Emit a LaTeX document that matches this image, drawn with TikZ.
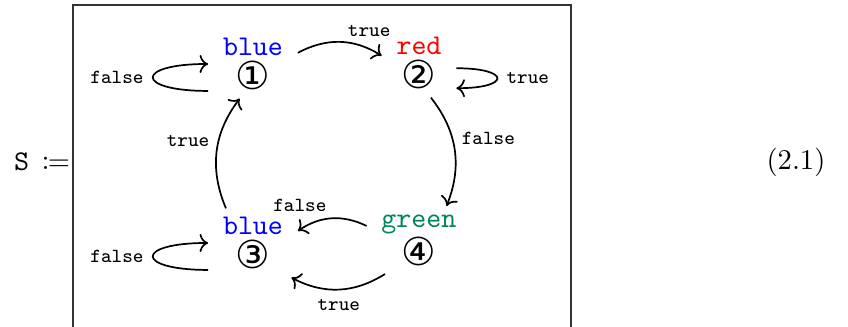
\documentclass[tikz,border=0pt]{standalone}
\usepackage{fontspec}
\usepackage{mathtools}
\newfontfamily\circfont[Scale=1.35]{DejaVu Sans}
\usetikzlibrary{positioning, arrows.meta}
\definecolor{stgreen}{RGB}{0,135,85}

\begin{document}
\begin{tikzpicture}[
    x = 0.35pt, y = -0.35pt,
    statebox/.style = {
      rectangle, align = center, font = \ttfamily,
      inner xsep = 5.2pt, inner ysep = 3pt, outer sep = 0pt
    },
    lbl/.style = {font = \ttfamily\scriptsize, inner sep = 3pt},
    arr/.style = {-{To[length=3pt]}, semithick}
  ]
  \useasboundingbox (0,0) rectangle (848,327);

  % Rahmen und Gleichung
  \draw[line width = 0.5pt, black!80] (73,327) -- (73,5) -- (571,5) -- (571,327);
  \node (lhs) at (42,162) {$\mathtt{S}\,\coloneqq$};
  \node (eqno) at (796,162) {(2.1)};

  % Zustaende
  \node[statebox] (s1) at (253,64)  {{\color{blue}blue}\\[0pt]{\circfont ①}};
  \node[statebox] (s2) at (419,63)  {{\color{red}red}\\[0pt]{\circfont ②}};
  \node[statebox] (s3) at (253,243) {{\color{blue}blue}\\[0pt]{\circfont ③}};
  \node[statebox] (s4) at (419,240) {{\color{stgreen}green}\\[0pt]{\circfont ④}};

  % Uebergaenge
  \draw[arr] (s1.14) to[bend left = 30]
    node[lbl, above = 1pt, pos = 0.85] {true} (s2.169);
  \draw[arr] (s2.-8) to[out = 0, in = 0, looseness = 7]
    node[lbl, right] {true} (s2.-34);
  \draw[arr] (s2.-71) to[bend left = 30]
    node[lbl, right, pos = 0.4] {false} (s4.51);
  \draw[arr] (s4.165) to[bend right = 30]
    node[lbl, above = 3pt, pos = 0.97] {false} (s3.15);
  \draw[arr] (s4.225) to[bend left = 30]
    node[lbl, below] {true} (s3.-42);
  \draw[arr] (s3.128) to[bend left = 30]
    node[lbl, left, pos = 0.6] {true} (s1.249);
  \draw[arr] (s1.211) to[out = 180, in = 180, looseness = 7]
    node[lbl, left] {false} (s1.west);
  \draw[arr] (s3.211) to[out = 180, in = 180, looseness = 7]
    node[lbl, left] {false} (s3.west);

\end{tikzpicture}
\end{document}
